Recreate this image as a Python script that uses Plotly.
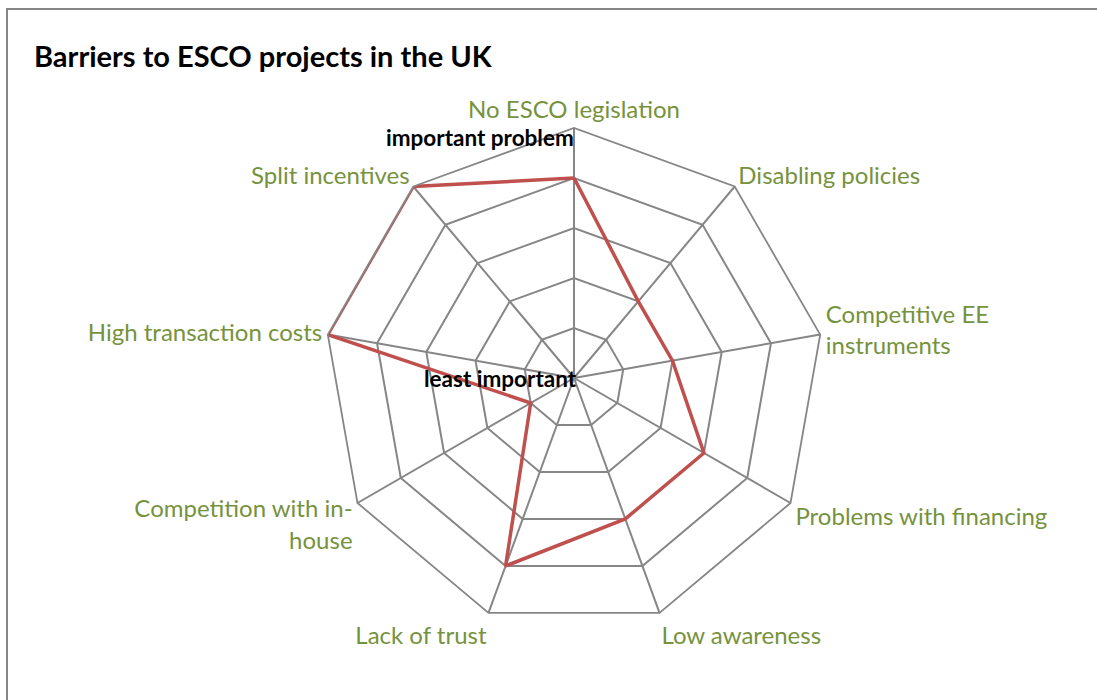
import plotly.graph_objects as go

categories = [
    "No ESCO legislation",
    "Disabling policies",
    "Competitive EE<br>instruments",
    "Problems with financing",
    "Low awareness",
    "Lack of trust",
    "Competition with in-<br>house",
    "High transaction costs",
    "Split incentives",
]
scores = [4, 2, 2, 3, 3, 4, 1, 5, 5]

fig = go.Figure()
fig.add_trace(go.Scatterpolar(
    r=scores + scores[:1],
    theta=categories + categories[:1],
    mode="lines",
    line=dict(color="#C0504D", width=3.5),
    showlegend=False,
    hoverinfo="skip",
))

grid = "#868686"
W, H = 1097, 700
fig.update_layout(
    width=W, height=H,
    margin=dict(l=0, r=0, t=0, b=0),
    paper_bgcolor="white",
    plot_bgcolor="white",
    font=dict(family="Lato", color="#76923C", size=24),
    polar=dict(
        domain=dict(x=[324 / W, 824 / W], y=[72 / H, 572 / H]),
        bgcolor="white",
        gridshape="linear",
        radialaxis=dict(range=[0, 5], dtick=1, showticklabels=False, ticks="",
                        gridcolor=grid, gridwidth=1.8, showline=False),
        angularaxis=dict(direction="clockwise", rotation=90, gridcolor=grid,
                         gridwidth=1.8, linecolor=grid, linewidth=1.8,
                         ticks="", tickfont=dict(size=24, color="#76923C")),
    ),
    shapes=[dict(type="rect", xref="paper", yref="paper",
                 x0=7 / W, x1=1.05, y0=-0.05, y1=1 - 9 / H,
                 line=dict(color="#868686", width=2))],
    annotations=[
        dict(text="<b>Barriers to ESCO projects in the UK</b>", xref="paper", yref="paper",
             x=32 / W, y=1 - 56 / H, xanchor="left", yanchor="middle",
             showarrow=False, font=dict(size=29, color="black", family="Lato")),
        dict(text="<b>important problem</b>", xref="paper", yref="paper",
             x=576 / W, y=1 - 137 / H, xanchor="right", yanchor="middle",
             showarrow=False, font=dict(size=22.5, color="black", family="Lato")),
        dict(text="<b>least important</b>", xref="paper", yref="paper",
             x=500 / W, y=1 - 378 / H, xanchor="center", yanchor="middle",
             showarrow=False, font=dict(size=22.5, color="black", family="Lato")),
    ],
)

fig.write_html("out.html", config={"displayModeBar": False},
               post_script="document.body.style.margin='0px';")
